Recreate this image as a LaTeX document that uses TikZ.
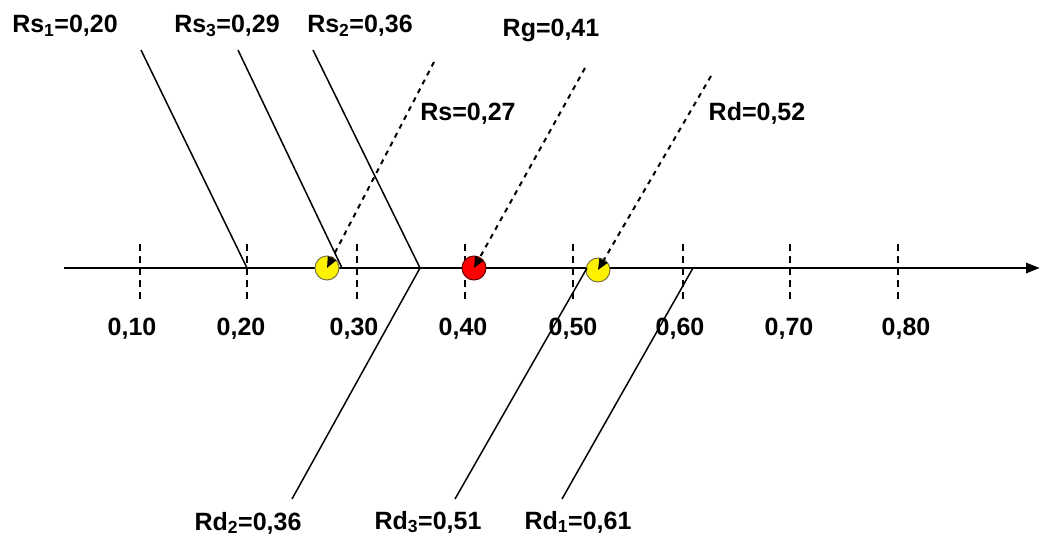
\documentclass[tikz,border=0pt]{standalone}
\usepackage{fontspec}
\setmainfont{Liberation Sans}
\usetikzlibrary{arrows.meta}
\begin{document}
\begin{tikzpicture}[x=1pt,y=-1pt,
  lbl/.style={font=\fontsize{25}{28}\selectfont\bfseries, inner sep=0pt, anchor=base},
  axisline/.style={line width=2.8pt,-{Triangle[length=14pt,width=10pt]}},
  tickline/.style={line width=2pt, dash pattern=on 7pt off 5pt},
  solidline/.style={line width=1.5pt},
  dasharrow/.style={line width=2pt, dash pattern=on 5pt off 5pt, -{Triangle[length=11pt,width=9pt]}},
  dot/.style={circle, minimum size=24pt, inner sep=0pt, line width=1pt}
]
\useasboundingbox (0,0) rectangle (1041,540);
% axis
\coordinate (a0) at (64,268);
\coordinate (a1) at (1040,268);
\draw[axisline] (a0) -- (a1);
% ticks and labels
\foreach \v/\x/\c/\t in {1/140/132/{0,10},2/247/241/{0,20},3/357/354/{0,30},4/465/463/{0,40},5/573/573/{0,50},6/683/680/{0,60},7/790/789/{0,70},8/898/906/{0,80}}{
  \coordinate (t\v a) at (\x,244);
  \coordinate (t\v b) at (\x,300);
  \draw[tickline] (t\v a) -- (t\v b);
  \node[lbl] (tl\v) at (\c,335) {\t};
}
% circles
\node[dot, draw=black!60!yellow, fill=yellow] (ys) at (327,268) {};
\node[dot, draw=black!60!red, fill=red] (rg) at (474,268) {};
\node[dot, draw=black!60!yellow, fill=yellow] (yd) at (598,270) {};
% top labels
\node[lbl] (Ls1) at (65,33) {Rs\textsubscript{1}=0,20};
\node[lbl] (Ls3) at (227,33) {Rs\textsubscript{3}=0,29};
\node[lbl] (Ls2) at (360,33) {Rs\textsubscript{2}=0,36};
\node[lbl] (Lg) at (551,37) {Rg=0,41};
\node[lbl] (Ls) at (468,121) {Rs=0,27};
\node[lbl] (Ld) at (757,121) {Rd=0,52};
% bottom labels
\node[lbl] (Ld2) at (248,530) {Rd\textsubscript{2}=0,36};
\node[lbl] (Ld3) at (428,529) {Rd\textsubscript{3}=0,51};
\node[lbl] (Ld1) at (578,529) {Rd\textsubscript{1}=0,61};
% solid lines
\coordinate (s1top) at (141,50); \coordinate (s1) at (247,268);
\coordinate (s3top) at (238,50); \coordinate (s3) at (342,268);
\coordinate (s2top) at (313,50); \coordinate (s2) at (420,268);
\coordinate (d2bot) at (292,499);
\coordinate (d3bot) at (455,499); \coordinate (d3) at (587,268);
\coordinate (d1bot) at (562,499); \coordinate (d1) at (693,268);
\draw[solidline] (s1top) -- (s1);
\draw[solidline] (s3top) -- (s3);
\draw[solidline] (s2top) -- (s2) -- (d2bot);
\draw[solidline] (d3bot) -- (d3);
\draw[solidline] (d1bot) -- (d1);
% dashed arrows
\coordinate (rstop) at (434,62);
\coordinate (rgtop) at (585,68);
\coordinate (rdtop) at (711,76);
\draw[dasharrow] (rstop) -- (ys.center);
\draw[dasharrow] (rgtop) -- (rg.center);
\draw[dasharrow] (rdtop) -- (yd.center);
\end{tikzpicture}
\end{document}
